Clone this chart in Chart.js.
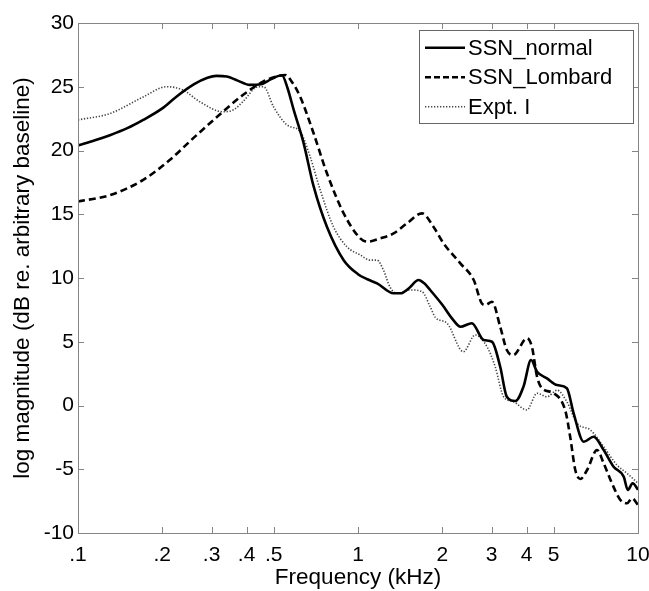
<!DOCTYPE html>
<html>
<head>
<meta charset="utf-8">
<script src="https://cdn.jsdelivr.net/npm/chart.js@4/dist/chart.umd.min.js"></script>
<style>
html,body{margin:0;padding:0;background:#fff;}
canvas{display:block;}
</style>
</head>
<body>
<canvas id="c" width="649" height="591"></canvas>
<script>
// ---- data (frequency in kHz, magnitude in dB) ----
const freqNormal = [0.1,0.115,0.13,0.15,0.171,0.2,0.224,0.26,0.29,0.312,0.34,0.37,0.41,0.45,0.49,0.535,0.56,0.589,0.639,0.694,0.775,0.889,1.0,1.08,1.17,1.34,1.42,1.52,1.646,1.72,1.81,2.0,2.19,2.32,2.55,2.81,3.01,3.22,3.40,3.65,3.90,4.15,4.36,4.73,5.14,5.57,5.89,6.4,6.94,7.54,8.18,8.89,9.2,9.57,10];
const dbNormal   = [20.4,20.8,21.2,21.75,22.4,23.3,24.2,25.2,25.7,25.85,25.8,25.5,25.15,25.2,25.6,25.9,24.9,23.2,20.6,17.2,14.0,11.4,10.3,9.9,9.58,8.8,8.8,9.2,9.84,9.6,9.06,7.9,6.7,6.18,6.45,5.14,5.0,3.04,0.69,0.35,1.48,3.57,2.65,2.13,1.6,1.35,-0.61,-2.84,-2.45,-3.49,-4.8,-5.58,-6.63,-6.1,-6.6];

const freqLombard = [0.1,0.13,0.171,0.2125,0.2575,0.32,0.388,0.458,0.51,0.55,0.58,0.622,0.694,0.775,0.889,1.019,1.08,1.2,1.34,1.496,1.693,1.862,2.02,2.32,2.59,2.77,2.85,3.01,3.22,3.40,3.59,4.01,4.18,4.36,4.54,5.0,5.5,5.73,5.97,6.22,6.58,7.14,7.54,8.07,8.65,9.14,9.52,10];
const dbLombard   = [16.0,16.5,17.7,19.25,20.95,22.8,24.35,25.4,25.8,25.92,25.4,24.2,21.35,18.2,15.07,13.11,12.85,13.1,13.5,14.29,15.07,14.0,12.72,11.15,9.84,8.0,7.88,8.14,6.18,4.35,3.96,5.27,4.6,2.26,1.35,0.96,-0.4,-2.5,-5.06,-5.76,-5.06,-3.49,-4.53,-6.1,-7.41,-7.67,-7.28,-7.8];

const freqExpt = [0.1,0.13,0.171,0.207,0.237,0.272,0.33,0.36,0.388,0.44,0.46,0.5,0.558,0.622,0.675,0.733,0.818,0.913,1.019,1.106,1.169,1.234,1.30,1.378,1.537,1.693,1.81,1.89,2.08,2.38,2.62,2.89,3.09,3.31,3.59,4.01,4.36,4.73,5.14,5.57,6.06,6.76,7.54,8.41,9.14,10];
const dbExpt   = [22.4,22.9,24.2,25.0,24.75,23.83,23.04,23.2,23.83,25.0,25.0,23.4,22.0,21.47,19.5,16.9,14.0,12.45,11.8,11.4,11.4,10.6,9.3,8.8,9.06,8.93,7.75,6.9,6.45,4.22,5.53,4.6,3.04,0.69,0.3,-0.35,0.96,0.69,1.2,0.3,-1.4,-1.92,-3.23,-4.67,-5.32,-6.1];

const seriesNames = ['SSN_normal','SSN_Lombard','Expt. I'];
const xTickValues = [0.1,0.2,0.3,0.4,0.5,1,2,3,4,5,10];
const xTickLabels = ['.1','.2','.3','.4','.5','1','2','3','4','5','10'];
const yTickValues = [-10,-5,0,5,10,15,20,25,30];

const FONT = '"Liberation Sans", Arial, Helvetica, sans-serif';
const AXIS_COLOR = '#858585';

function pts(fx, fy){ return fx.map((f,i)=>({x:f,y:fy[i]})); }

const styles = [
  {borderColor:'#000', borderWidth:2.6, borderDash:[]},
  {borderColor:'#000', borderWidth:2.6, borderDash:[7,4]},
  {borderColor:'#444', borderWidth:1.6, borderDash:[1.3,1.7]}
];

const frameAndLegend = {
  id:'frameAndLegend',
  afterDatasetsDraw(chart){
    const ctx = chart.ctx, a = chart.chartArea;
    const xs = chart.scales.x, ys = chart.scales.y;
    ctx.save();
    ctx.strokeStyle = AXIS_COLOR; ctx.lineWidth = 1;
    ctx.strokeRect(Math.round(a.left)+0.5, Math.round(a.top)+0.5, Math.round(a.right-a.left), Math.round(a.bottom-a.top));
    const tl = 6;
    ctx.beginPath();
    xTickValues.forEach(v=>{
      const px = Math.round(xs.getPixelForValue(v))+0.5;
      ctx.moveTo(px, a.bottom); ctx.lineTo(px, a.bottom - tl);
      ctx.moveTo(px, a.top); ctx.lineTo(px, a.top + tl);
    });
    yTickValues.forEach(v=>{
      const py = Math.round(ys.getPixelForValue(v))+0.5;
      ctx.moveTo(a.left, py); ctx.lineTo(a.left + tl, py);
      ctx.moveTo(a.right, py); ctx.lineTo(a.right - tl, py);
    });
    ctx.stroke();

    // legend
    const bw = 214, bh = 93;
    const bx = Math.round(a.right - 5 - bw), by = Math.round(a.top + 7);
    ctx.fillStyle = '#fff';
    ctx.fillRect(bx, by, bw, bh);
    ctx.strokeStyle = '#666';
    ctx.strokeRect(bx+0.5, by+0.5, bw, bh);
    ctx.font = '22px ' + FONT;
    ctx.textBaseline = 'middle';
    ctx.textAlign = 'left';
    chart.data.datasets.forEach((ds,i)=>{
      const cy = by + 17.7 + i*29.5;
      ctx.beginPath();
      ctx.strokeStyle = ds.borderColor;
      ctx.lineWidth = ds.borderWidth;
      ctx.setLineDash(i===1 ? [6,3] : ds.borderDash);
      ctx.moveTo(bx+6, cy); ctx.lineTo(bx+46, cy);
      ctx.stroke();
      ctx.setLineDash([]);
      ctx.fillStyle = '#000';
      ctx.fillText(seriesNames[i], bx+49, cy+1);
    });
    ctx.restore();
  }
};

new Chart(document.getElementById('c'), {
  type:'line',
  data:{
    datasets:[
      Object.assign({label:seriesNames[0], data:pts(freqNormal, dbNormal)}, styles[0]),
      Object.assign({label:seriesNames[1], data:pts(freqLombard, dbLombard)}, styles[1]),
      Object.assign({label:seriesNames[2], data:pts(freqExpt, dbExpt)}, styles[2])
    ].map(d=>Object.assign(d,{pointRadius:0, fill:false, cubicInterpolationMode:'monotone'}))
  },
  options:{
    responsive:false,
    animation:false,
    devicePixelRatio:1,
    layout:{padding:{top:23,right:11,left:0,bottom:0}},
    plugins:{legend:{display:false}, tooltip:{enabled:false}},
    scales:{
      x:{
        type:'logarithmic', min:0.1, max:10,
        afterFit(s){ s.height = 58; s.paddingLeft = 0; s.paddingRight = 0; },
        afterBuildTicks(s){ s.ticks = xTickValues.map(v=>({value:v})); },
        ticks:{
          autoSkip:false, maxRotation:0, padding:10, color:'#000',
          font:{family:FONT, size:21},
          callback(v){ const i = xTickValues.indexOf(v); return i>=0 ? xTickLabels[i] : ''; }
        },
        grid:{display:true, drawOnChartArea:false, drawTicks:false},
        border:{display:true, color:AXIS_COLOR, width:1},
        title:{display:true, text:'Frequency (kHz)', color:'#000', font:{family:FONT, size:22.5}, padding:{top:0,bottom:0}}
      },
      y:{
        type:'linear', min:-10, max:30,
        afterFit(s){ s.width = 78; s.paddingTop = 0; s.paddingBottom = 0; },
        afterBuildTicks(s){ s.ticks = yTickValues.map(v=>({value:v})); },
        ticks:{padding:4, color:'#000', font:{family:FONT, size:21}},
        grid:{display:true, drawOnChartArea:false, drawTicks:false},
        border:{display:true, color:AXIS_COLOR, width:1},
        title:{display:true, text:'log magnitude (dB re. arbitrary baseline)', color:'#000', font:{family:FONT, size:22.5}, padding:{top:9,bottom:0}}
      }
    }
  },
  plugins:[frameAndLegend]
});
</script>
</body>
</html>
